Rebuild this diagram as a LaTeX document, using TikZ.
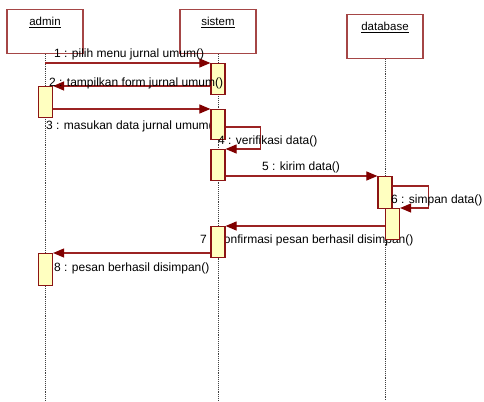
\documentclass[tikz,border=0pt]{standalone}
\usepackage{fontspec}
\setmainfont{Liberation Sans}
\usetikzlibrary{arrows.meta,positioning,calc}
\definecolor{boxred}{RGB}{165,70,70}
\definecolor{barred}{RGB}{140,20,20}
\definecolor{baryellow}{RGB}{255,255,192}
\definecolor{msgred}{RGB}{155,35,35}
\definecolor{tipred}{RGB}{128,0,0}

\begin{document}
\begin{tikzpicture}[x=1pt,y=-1pt,
    head/.style={draw=boxred, line width=1.2pt, minimum width=76pt, text height=12pt,
      text depth=24pt, inner sep=4pt, anchor=north, font=\fontsize{11.5}{13}\selectfont},
    bar/.style={draw=barred, fill=baryellow, line width=1.2pt, minimum width=14pt,
      inner sep=0pt, anchor=north},
    life/.style={densely dotted, gray!50!black, line width=0.9pt},
    msg/.style={draw=msgred, line width=1.1pt, -{Triangle[length=11pt,width=9pt,color=tipred]}},
    lbl/.style={anchor=base west, inner sep=0pt, font=\fontsize{12}{14}\selectfont}]
      \fill[white] (0,0) rectangle (484,401);
      % objects and lifelines
      \node[head] (admin) at (45,9) {\underline{admin}};
      \node[head] (sistem) at (218,9) {\underline{sistem}};
      \node[head] (database) at (385,14) {\underline{database}};
      \draw[life] (admin.south) -- (admin.south |- 0,401);
      \draw[life] (sistem.south) -- (sistem.south |- 0,401);
      \draw[life] (database.south) -- (database.south |- 0,401);
      % labels hidden partly behind bars
      \node[lbl] (l3) at (46,129) {3 : masukan data jurnal umum()};
      \node[lbl] (l7) at (200,243) {7 : konfirmasi pesan berhasil disimpan()};
      % activations
      \node[bar, minimum height=31pt] (a1) at (45.5,86) {};
      \node[bar, minimum height=32pt] (a2) at (45.5,253) {};
      \node[bar, minimum height=31pt] (s1) at (218,63) {};
      \node[bar, minimum height=30pt] (s2) at (218,109) {};
      \node[bar, minimum height=31pt] (s3) at (218,149) {};
      \node[bar, minimum height=31pt] (s4) at (218,226) {};
      \node[bar, minimum height=32pt] (d1) at (385,176) {};
      \node[bar, minimum height=31pt] (d2) at (392.5,208) {};
      % messages
      \draw[msg] (admin.south |- s1.north) -- (s1.north west);
      \draw[msg] (s1.west |- a1.north) -- (a1.north east);
      \draw[msg] (a1.east |- s2.north) -- (s2.north west);
      \draw[msg] ($(s2.north east)+(0,18)$) -- ++(35,0) |- (s3.north east);
      \draw[msg] (s3.east |- d1.north) -- (d1.north west);
      \draw[msg] ($(d1.north east)+(0,10)$) -- ++(36,0) |- (d2.north east);
      \draw[msg] (d2.west |- s4.north) -- (s4.north east);
      \draw[msg] (s4.west |- a2.north) -- (a2.north east);
      \node[lbl] (l1) at (54,57) {1 : pilih menu jurnal umum()};
      \node[lbl] (l2) at (49,86) {2 : tampilkan form jurnal umum()};
      \node[lbl] (l4) at (218,144) {4 : verifikasi data()};
      \node[lbl] (l5) at (262,170) {5 : kirim data()};
      \node[lbl] (l6) at (391,203) {6 : simpan data()};
      \node[lbl] (l8) at (54,271) {8 : pesan berhasil disimpan()};
    \end{tikzpicture}
\end{document}
